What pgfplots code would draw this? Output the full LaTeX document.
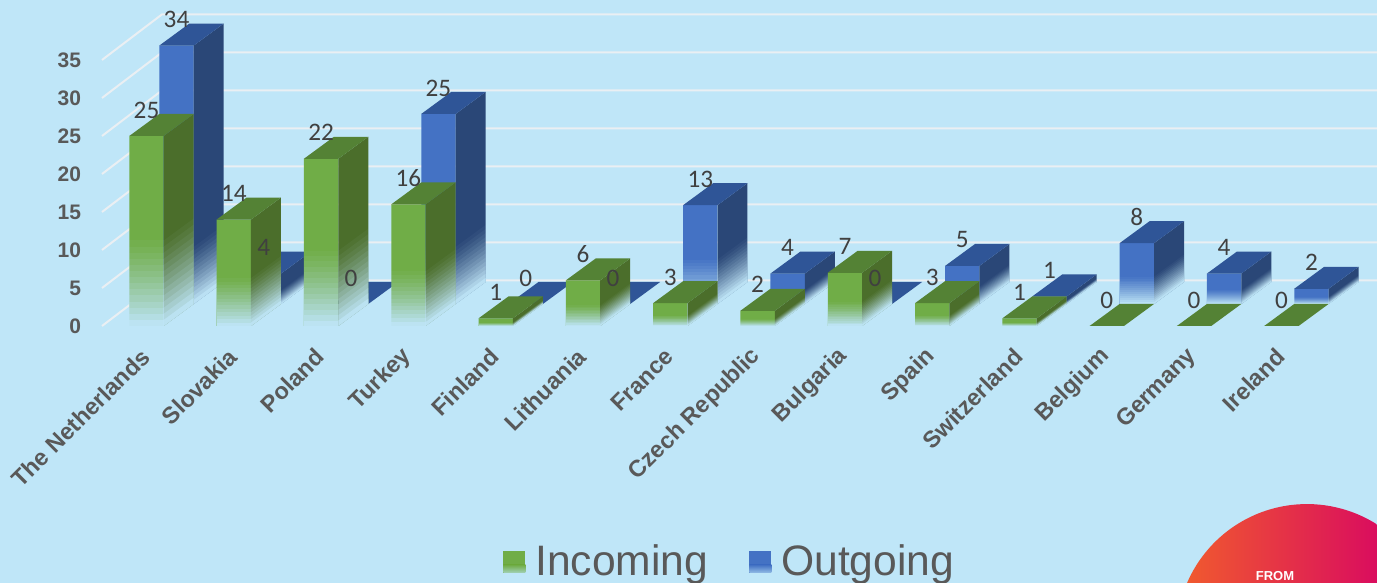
\documentclass[border=0pt]{standalone}
\usepackage{fontspec}
\usepackage{pgfplots}
\usepackage{pgfplotstable}
\pgfplotsset{compat=1.18}
\setmainfont{Liberation Sans}
\newfontfamily\labelfont{Carlito}
\definecolor{bg}{HTML}{BFE6F8}
\definecolor{gridc}{HTML}{EAEFF3}
\definecolor{txt}{HTML}{595959}
\definecolor{lab}{HTML}{404040}
\definecolor{gfront}{HTML}{70AD47}
\definecolor{gtop}{HTML}{548235}
\definecolor{gside}{HTML}{4B6E2B}
\definecolor{bfront}{HTML}{4472C4}
\definecolor{btop}{HTML}{2F5597}
\definecolor{bside}{HTML}{2A4777}
\definecolor{badgel}{HTML}{F0592F}
\definecolor{badger}{HTML}{DA0D5E}

% k, incoming, outgoing
\pgfplotstableread{
k in out
0 25 34
1 14 4
2 22 0
3 16 25
4 1 0
5 6 0
6 3 13
7 2 4
8 7 0
9 3 5
10 1 1
11 0 8
12 0 4
13 0 2
}\datatable

% depth step of the fake 3d (30px, 22px), half bar width
\def\dx{0.3436}
\def\dy{2.895}
\def\hw{0.197}
\def\nlay{14}

\newcommand\facequad[9]{%
  \addplot[fill=#1,draw=none,forget plot] coordinates {(#2,#3)(#4,#5)(#6,#7)(#8,#9)} -- cycle;
}
\newcount\fc
% #1 k, #2 value, #3 depth row, #4 side colour, #5 top colour
\newcommand\sidetop[5]{%
  \pgfmathsetmacro\xl{#1-\hw+#3*\dx}%
  \pgfmathsetmacro\xr{#1+\hw+#3*\dx}%
  \pgfmathsetmacro\xlb{\xl+\dx}%
  \pgfmathsetmacro\xrb{\xr+\dx}%
  \pgfmathsetmacro\yb{#3*\dy}%
  \pgfmathsetmacro\ybb{\yb+\dy}%
  \pgfmathsetmacro\yt{#2+\yb}%
  \pgfmathsetmacro\ytb{\yt+\dy}%
  \ifdim#2pt>0pt
    \facequad{#4}{\xr}{\yb}{\xrb}{\ybb}{\xrb}{\ytb}{\xr}{\yt}%
  \fi
  \facequad{#5}{\xl}{\yt}{\xr}{\yt}{\xrb}{\ytb}{\xlb}{\ytb}%
}
% stacked see-through layers of background colour, tallest first
\newcommand\fade[4]{%
  \pgfmathsetmacro\xl{#1-\hw+#3*\dx}%
  \pgfmathsetmacro\xr{#1+\hw+#3*\dx}%
  \pgfmathsetmacro\xrb{\xr+\dx}%
  \pgfmathsetmacro\yb{#3*\dy}%
  \pgfmathsetmacro\ybb{\yb+\dy}%
  \pgfmathsetmacro\fh{min(0.45*#2,#4)}%
  \ifdim#2pt>0pt
    \fc=1
    \loop
      \pgfmathsetmacro\hh{\fh*(\nlay+1-\the\fc)/\nlay}%
      \pgfmathsetmacro\ya{\yb+\hh}%
      \pgfmathsetmacro\yc{\ybb+\hh}%
      \pgfmathsetmacro\cumb{.97*((\the\fc-1)/\nlay)^1.2}%
      \pgfmathsetmacro\cumt{.97*(\the\fc/\nlay)^1.2}%
      \pgfmathsetmacro\aj{1-(1-\cumt)/(1-\cumb)}%
      \edef\tmp{\noexpand\addplot[fill=bg,fill opacity=\aj,draw=none,forget plot]
        coordinates {(\xl,\yb)(\xr,\yb)(\xr,\ya)(\xl,\ya)} -- cycle;
        \noexpand\addplot[fill=bg,fill opacity=\aj,draw=none,forget plot]
        coordinates {(\xr,\yb)(\xrb,\ybb)(\xrb,\yc)(\xr,\ya)} -- cycle;}%
      \tmp
    \ifnum\fc<\nlay \advance\fc by 1 \repeat
  \fi
}

\begin{document}
\begin{tikzpicture}
\useasboundingbox (0,0) rectangle (688.5pt,291.5pt);
\begin{axis}[
  at={(0,0)}, anchor=south west,
  scale only axis,
  width=688.5pt, height=291.5pt,
  xmin=-1.6781, xmax=14.0951,
  ymin=-33.816, ymax=42.895,
  axis background/.style={fill=bg},
  axis line style={draw=none},
  tick style={draw=none},
  /pgf/number format/assume math mode=true,
  ytick={0,5,10,15,20,25,30,35},
  xtick={0,...,13},
  xticklabels={The Netherlands,Slovakia,Poland,Turkey,Finland,Lithuania,France,Czech Republic,Bulgaria,Spain,Switzerland,Belgium,Germany,Ireland},
  x tick label style={font=\fontsize{11.7}{13}\selectfont\bfseries,text=txt,rotate=45,anchor=east,xshift=84.5pt,yshift=81.7pt},
  y tick label style={font=\fontsize{10.5}{12}\selectfont\bfseries,text=txt,anchor=east,xshift=44pt},
  legend style={at={(axis cs:6.693,-31.05)},anchor=center,draw=none,fill=none,legend columns=2,
    font=\fontsize{21.3}{24}\selectfont,text=txt,
    /tikz/every odd column/.append style={column sep=3pt},
    /tikz/every even column/.append style={column sep=18.5pt}},
]
% gridlines, side wall then back wall
\pgfplotsforeachungrouped \v in {0,5,...,35}{
  \pgfmathsetmacro\vb{\v+6}
  \addplot[gridc,line width=1pt,forget plot] coordinates {(-0.51,\v)(0.1775,\vb)(14.0951,\vb)};
}
% outgoing: back row
\addplot[ybar,/pgf/bar shift=0pt,bar width=17.15pt,fill=bfront,draw=none,forget plot,xshift=15pt,yshift=11pt]
  table[x=k,y=out]{\datatable};
\pgfplotsforeachungrouped \k in {0,...,13}{
  \pgfplotstablegetelem{\k}{out}\of\datatable
  \let\val\pgfplotsretval
  \sidetop{\k}{\val}{1}{bside}{btop}
  \fade{\k}{\val}{1}{7.5}
}
% incoming: front row
\addplot[ybar,/pgf/bar shift=0pt,bar width=17.15pt,fill=gfront,draw=none,forget plot]
  table[x=k,y=in]{\datatable};
\pgfplotsforeachungrouped \k in {0,...,13}{
  \pgfplotstablegetelem{\k}{in}\of\datatable
  \let\val\pgfplotsretval
  \sidetop{\k}{\val}{0}{gside}{gtop}
  \fade{\k}{\val}{0}{12}
}
% value labels on top of everything
\addplot[draw=none,mark=none,forget plot,nodes near coords,
  every node near coord/.append style={font=\fontsize{12.6}{14}\labelfont,text=lab,anchor=center,xshift=15pt,yshift=24pt,inner sep=0pt}]
  table[x=k,y=out]{\datatable};
\addplot[draw=none,mark=none,forget plot,nodes near coords,
  every node near coord/.append style={font=\fontsize{12.6}{14}\labelfont,text=lab,anchor=center,yshift=13pt,inner sep=0pt}]
  table[x=k,y=in]{\datatable};
% legend
\addlegendimage{legend image code/.code={
  \fill[gfront,draw=none] (0pt,-5.5pt) rectangle (11pt,5.5pt);
  \path[draw=none,top color=gfront,bottom color=gfront!35!bg] (0pt,-5.5pt) rectangle (11pt,-1.5pt);}}
\addlegendentry{Incoming}
\addlegendimage{legend image code/.code={
  \fill[bfront,draw=none] (0pt,-5.5pt) rectangle (11pt,5.5pt);
  \path[draw=none,top color=bfront,bottom color=bfront!35!bg] (0pt,-5.5pt) rectangle (11pt,-1.5pt);}}
\addlegendentry{Outgoing}
% corner badge
\path[left color=badgel,right color=badger]
  (axis cs:11.919,-33.816) arc[start angle=156.7,end angle=57.6,radius=65.3pt]
  -- (axis cs:14.0951,-33.816) -- cycle;
\node[text=white,font=\fontsize{6.5}{7}\selectfont\bfseries,inner sep=0pt] at (axis cs:12.927,-32.9) {FROM};
\end{axis}
\end{tikzpicture}
\end{document}
